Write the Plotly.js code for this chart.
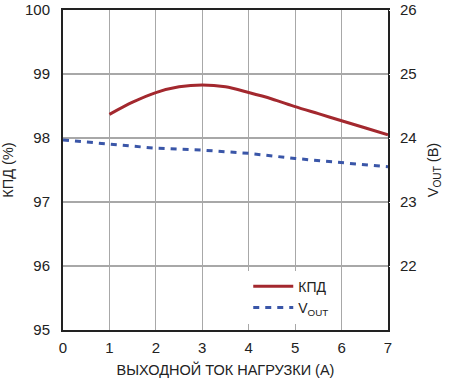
<!DOCTYPE html>
<html>
<head>
<meta charset="utf-8">
<script src="https://cdn.plot.ly/plotly-3.0.1.min.js"></script>
<style>html,body{margin:0;padding:0;background:#fff;}#chart{width:450px;height:380px;}</style>
</head>
<body>
<div id="chart"></div>
<script>
const effX = [1, 1.5, 2, 2.5, 3, 3.5, 4, 4.5, 5, 5.5, 6, 6.5, 7];
const effY = [98.37, 98.56, 98.71, 98.80, 98.83, 98.80, 98.71, 98.61, 98.49, 98.38, 98.27, 98.16, 98.05];
const voutX = [0, 1, 2, 3, 4, 5, 6, 7];
const voutY = [23.97, 23.91, 23.84, 23.81, 23.76, 23.68, 23.62, 23.55];
const xTicks = [0, 1, 2, 3, 4, 5, 6, 7];
const leftTicks = [95, 96, 97, 98, 99, 100];
const rightTicks = [22, 23, 24, 25, 26];

const font = {family: 'Liberation Sans, Arial, sans-serif', size: 15, color: '#222'};
const data = [
  {x: effX, y: effY, name: 'КПД', mode: 'lines', line: {color: '#a3282e', width: 3, shape: 'spline', smoothing: 0.8}, yaxis: 'y'},
  {x: voutX, y: voutY, name: 'V<sub>OUT</sub>', mode: 'lines', line: {color: '#3a56a8', width: 3, dash: '6px,6px'}, yaxis: 'y2'}
];
const layout = {
  width: 450, height: 380,
  margin: {l: 63, r: 62, t: 10, b: 50},
  paper_bgcolor: '#fff', plot_bgcolor: '#fff',
  font: font,
  showlegend: true,
  legend: {x: 0.57, y: 0.02, xanchor: 'left', yanchor: 'bottom', bgcolor: '#fff', font: {size: 14, color: '#222'}, tracegroupgap: 0, itemwidth: 40},
  xaxis: {range: [0, 7], tickvals: xTicks, showgrid: true, gridcolor: '#a8a8a8', gridwidth: 1.2,
    showline: true, linecolor: '#222', linewidth: 2, mirror: true, ticks: 'outside', ticklen: 3, tickcolor: '#fff', zeroline: false,
    ticklabeloverflow: 'allow',
    title: {text: 'ВЫХОДНОЙ ТОК НАГРУЗКИ (А)', font: {size: 14.5, color: '#222'}, standoff: 10}},
  yaxis: {range: [95, 100], tickvals: leftTicks, showgrid: true, gridcolor: '#a8a8a8', gridwidth: 1.2,
    showline: true, linecolor: '#222', linewidth: 2, mirror: true, ticks: 'outside', ticklen: 8, tickcolor: '#fff', zeroline: false,
    ticklabeloverflow: 'allow',
    title: {text: 'КПД (%)', font: {size: 14.5, color: '#222'}, standoff: 14}},
  yaxis2: {range: [21, 26], tickvals: rightTicks, overlaying: 'y', side: 'right', showgrid: false, zeroline: false,
    ticks: 'outside', ticklen: 8, tickcolor: '#fff', showline: false, ticklabeloverflow: 'allow',
    title: {text: 'V<sub>OUT</sub> (В)', font: {size: 14.5, color: '#222'}, standoff: 12}}
};
Plotly.newPlot('chart', data, layout, {displayModeBar: false, staticPlot: true});
</script>
</body>
</html>
